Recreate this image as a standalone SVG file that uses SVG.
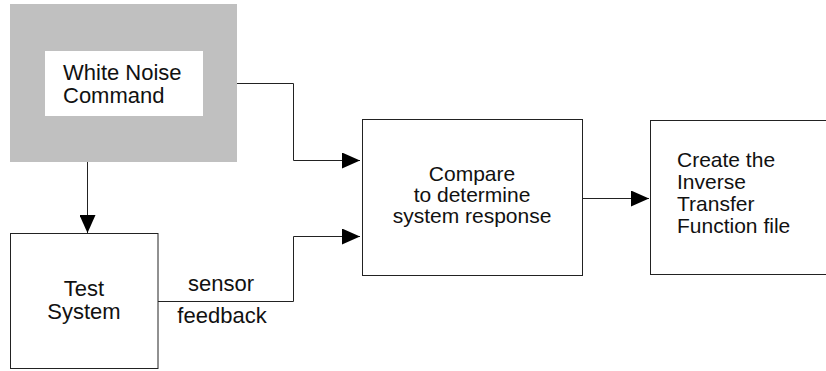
<svg xmlns="http://www.w3.org/2000/svg" width="826" height="371" viewBox="0 0 826 371">
<style>
  .box{fill:#fff;stroke:#222;stroke-width:1}
  .t{font-family:"Liberation Sans",Arial,sans-serif;font-size:22px;fill:#111}
  .s{font-size:21px}
  .c{text-anchor:middle}
  .ln{fill:none;stroke:#222;stroke-width:1}
</style>
<defs>
  <marker id="arr" markerUnits="userSpaceOnUse" markerWidth="18" markerHeight="16" refX="18" refY="8" orient="auto">
    <path d="M0,0 L18,8 L0,16 z" fill="#000"/>
  </marker>
</defs>
<rect width="826" height="371" fill="#fff"/>
<g id="white-noise">
  <rect x="10" y="4" width="227" height="158" fill="#c0c0c0"/>
  <rect x="45" y="51" width="158" height="65" fill="#fff"/>
  <text class="t" x="63" y="80">White Noise</text>
  <text class="t" x="63" y="103">Command</text>
</g>
<g id="test-system">
  <rect class="box" x="10.5" y="233.5" width="147.5" height="135"/>
  <text class="t c" x="84" y="296">Test</text>
  <text class="t c" x="84" y="319">System</text>
</g>
<g id="compare">
  <rect class="box" x="362.5" y="119.5" width="220" height="156"/>
  <text class="t s c" x="472" y="181">Compare</text>
  <text class="t s c" x="472" y="202">to determine</text>
  <text class="t s c" x="472" y="223">system response</text>
</g>
<g id="create">
  <rect class="box" x="650.5" y="120.5" width="180" height="154"/>
  <text class="t s" x="677" y="167">Create the</text>
  <text class="t s" x="677" y="189">Inverse</text>
  <text class="t s" x="677" y="211">Transfer</text>
  <text class="t s" x="677" y="233">Function file</text>
</g>
<g id="connectors">
  <polyline class="ln" points="237,83.5 293.5,83.5 293.5,160.5 360,160.5" marker-end="url(#arr)"/>
  <polyline class="ln" points="158,301.5 293.5,301.5 293.5,236.5 360,236.5" marker-end="url(#arr)"/>
  <line class="ln" x1="87.5" y1="162" x2="87.5" y2="233" marker-end="url(#arr)"/>
  <line class="ln" x1="583" y1="198.5" x2="649" y2="198.5" marker-end="url(#arr)"/>
  <text class="t c" x="221" y="291">sensor</text>
  <text class="t c" x="222" y="323">feedback</text>
</g>
</svg>
